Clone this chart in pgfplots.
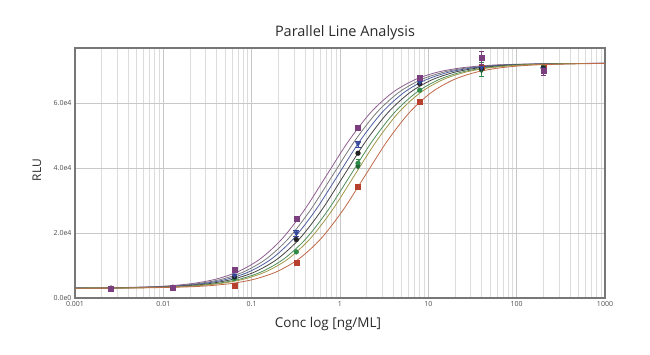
\documentclass[border=0pt]{standalone}
\usepackage{pgfplots}
\pgfplotsset{compat=1.18}
\usepackage{fontspec}
\setmainfont{Open Sans}
\definecolor{cpurple}{HTML}{7B3F80}
\definecolor{lpurple}{HTML}{8E5E90}
\definecolor{cgray}{HTML}{7A7A7A}
\definecolor{cblue}{HTML}{34479A}
\definecolor{lblue}{HTML}{4E5E9E}
\definecolor{cblack}{HTML}{222222}
\definecolor{cgreen}{HTML}{2E8B4A}
\definecolor{lgreen}{HTML}{4E8E5A}
\definecolor{colive}{HTML}{A09848}
\definecolor{cred}{HTML}{B8402E}
\definecolor{lred}{HTML}{C06848}
\definecolor{axgray}{HTML}{777777}
\definecolor{gridminor}{HTML}{DCDCDC}
\definecolor{gridmajor}{HTML}{C8C8C8}
\definecolor{txt}{HTML}{2A2A2A}
\begin{document}
\begin{tikzpicture}[x=1pt,y=1pt]
\path[use as bounding box] (0,0) rectangle (650,355);
\begin{axis}[
  at={(75pt,57pt)}, anchor=south west,
  scale only axis, width=530pt, height=250pt,
  xmode=log, xmin=0.001, xmax=1000, ymin=0, ymax=77000,
  xtick={0.001,0.01,0.1,1,10,100,1000},
  xticklabels={0.001,0.01,0.1,1,10,100,1000},
  minor xtick={0.002,0.003,0.004,0.005,0.006,0.007,0.008,0.009,
    0.02,0.03,0.04,0.05,0.06,0.07,0.08,0.09,
    0.2,0.3,0.4,0.5,0.6,0.7,0.8,0.9,
    2,3,4,5,6,7,8,9,
    20,30,40,50,60,70,80,90,
    200,300,400,500,600,700,800,900},
  ytick={0,20000,40000,60000},
  yticklabels={0.0e0,2.0e4,4.0e4,6.0e4},
  scaled y ticks=false,
  xmajorgrids, xminorgrids, ymajorgrids,
  major grid style={draw=gridmajor, line width=0.6pt},
  minor grid style={draw=gridminor, line width=0.6pt},
  axis line style={draw=axgray, line width=1.5pt},
  major tick length=0pt, minor tick length=0pt,
  ticklabel style={font=\fontsize{7}{8}\selectfont, text=black!70},
  clip=true,
]
% fitted curves
\addplot[smooth, no marks, lpurple, line width=0.8pt] coordinates {
(2.213e-4,3010)(7.0e-4,3035)(2.213e-3,3123)(0.007,3435)(0.01245,3814)(0.02213,4518)(0.03936,5804)(0.07,8100)(0.1245,12018)(0.2213,18239)(0.3936,27033)(0.70,37650)(1.245,48267)(2.213,57061)(3.936,63282)(7.0,67200)(12.45,69496)(22.13,70782)(39.36,71486)(70,71865)(221.3,72177)(700,72265)(2213,72290)};
\addplot[smooth, no marks, cgray, line width=0.8pt] coordinates {
(2.593e-4,3010)(8.2e-4,3035)(2.593e-3,3123)(0.0082,3435)(0.01458,3814)(0.02593,4518)(0.04611,5804)(0.082,8100)(0.1458,12018)(0.2593,18239)(0.4611,27033)(0.82,37650)(1.458,48267)(2.593,57061)(4.611,63282)(8.2,67200)(14.58,69496)(25.93,70782)(46.11,71486)(82,71865)(259.3,72177)(820,72265)(2593,72290)};
\addplot[smooth, no marks, lblue, line width=0.8pt] coordinates {
(2.972e-4,3010)(9.4e-4,3035)(2.972e-3,3123)(0.0094,3435)(0.01671,3814)(0.02972,4518)(0.05286,5804)(0.094,8100)(0.1671,12018)(0.2972,18239)(0.5286,27033)(0.94,37650)(1.671,48267)(2.972,57061)(5.286,63282)(9.4,67200)(16.71,69496)(29.72,70782)(52.86,71486)(94,71865)(297.2,72177)(940,72265)(2972,72290)};
\addplot[smooth, no marks, cblack!85, line width=0.8pt] coordinates {
(3.478e-4,3010)(1.1e-3,3035)(3.478e-3,3123)(0.011,3435)(0.01956,3814)(0.03478,4518)(0.06185,5804)(0.11,8100)(0.1956,12018)(0.3478,18239)(0.6185,27033)(1.1,37650)(1.956,48267)(3.478,57061)(6.185,63282)(11,67200)(19.56,69496)(34.78,70782)(61.85,71486)(110,71865)(347.8,72177)(1100,72265)(3478,72290)};
\addplot[smooth, no marks, lgreen, line width=0.8pt] coordinates {
(4.111e-4,3010)(1.3e-3,3035)(4.111e-3,3123)(0.013,3435)(0.02311,3814)(0.04111,4518)(0.0731,5804)(0.13,8100)(0.2311,12018)(0.4111,18239)(0.731,27033)(1.3,37650)(2.311,48267)(4.111,57061)(7.31,63282)(13,67200)(23.11,69496)(41.11,70782)(73.1,71486)(130,71865)(411.1,72177)(1300,72265)(4111,72290)};
\addplot[smooth, no marks, colive, line width=0.8pt] coordinates {
(4.585e-4,3010)(1.45e-3,3035)(4.585e-3,3123)(0.0145,3435)(0.02578,3814)(0.04585,4518)(0.08153,5804)(0.145,8100)(0.2578,12018)(0.4585,18239)(0.8153,27033)(1.45,37650)(2.578,48267)(4.585,57061)(8.153,63282)(14.5,67200)(25.78,69496)(45.85,70782)(81.53,71486)(145,71865)(458.5,72177)(1450,72265)(4585,72290)};
\addplot[smooth, no marks, lred, line width=0.8pt] coordinates {
(6.071e-4,3010)(1.92e-3,3035)(6.071e-3,3123)(0.0192,3435)(0.03414,3814)(0.06071,4518)(0.108,5804)(0.192,8100)(0.3414,12018)(0.6071,18239)(1.08,27033)(1.92,37650)(3.414,48267)(6.071,57061)(10.8,63282)(19.2,67200)(34.14,69496)(60.71,70782)(108,71486)(192,71865)(607.1,72177)(1920,72265)(6071,72290)};
% data points
\addplot[only marks, mark=square*, mark size=2.5pt, cred, error bars/.cd, y dir=both, y explicit, error bar style={line width=0.7pt}] coordinates {
(0.00256,2900)(0.0128,3100)(0.064,3700)(0.32,10800)(1.6,34200)(8,60600)(40,70800)(200,71000)};
\addplot[only marks, mark=*, mark size=2.4pt, cgreen, error bars/.cd, y dir=both, y explicit, error bar style={line width=0.7pt}] coordinates {
(0.00256,3000)(0.0128,3200)(0.064,6000)(0.32,14200)(1.6,41500) +- (0,1200)(8,64000)(40,70500) +- (0,2200)(200,71000)};
\addplot[only marks, mark=triangle*, mark options={rotate=180}, mark size=2.6pt, cgreen!70!black] coordinates {
(1.6,40500)(40,70000)};
\addplot[only marks, mark=*, mark size=2.4pt, cblack] coordinates {
(0.00256,3000)(0.0128,3300)(0.064,6500)(0.32,18000)(1.6,44600)(8,66000)(40,70800)(200,70800)};
\addplot[only marks, mark=triangle*, mark options={rotate=180}, mark size=2.8pt, cblue, error bars/.cd, y dir=both, y explicit, error bar style={line width=0.7pt}] coordinates {
(0.00256,3000)(0.0128,3300)(0.064,7000)(0.32,20000) +- (0,900)(1.6,47500) +- (0,900)(8,66500)(40,71000)(200,70500)};
\addplot[only marks, mark=square*, mark size=2.5pt, cpurple, error bars/.cd, y dir=both, y explicit, error bar style={line width=0.7pt}] coordinates {
(0.00256,3000)(0.0128,3300)(0.064,8600)(0.32,24300)(1.6,52300)(8,67700)(40,74000) +- (0,2000)(200,70000) +- (0,1500)};
\end{axis}
\node[text=txt, font=\fontsize{14.5}{16}\selectfont] at (345,322) {Parallel Line Analysis};
\node[text=txt, font=\fontsize{13.5}{15}\selectfont] at (328,31) {Conc log [ng/ML]};
\node[text=txt, font=\fontsize{12}{14}\selectfont, rotate=90] at (37,185) {RLU};
\end{tikzpicture}
\end{document}
